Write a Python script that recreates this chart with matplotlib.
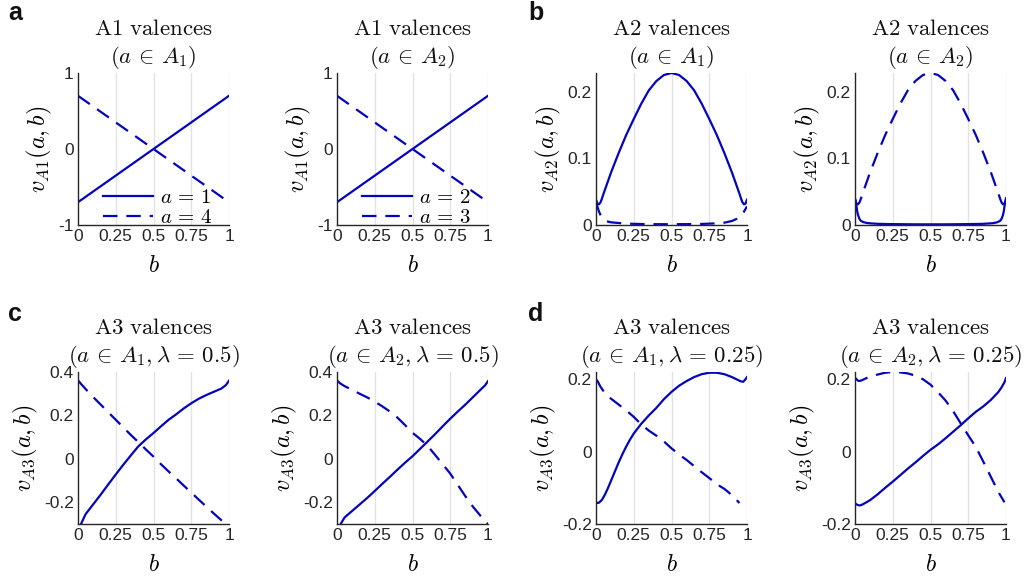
import matplotlib

matplotlib.use('Agg')
import matplotlib.pyplot as plt

plt.rcParams['font.family'] = ['Liberation Sans', 'DejaVu Sans']
plt.rcParams['mathtext.fontset'] = 'cm'

# ---- data ----
# A1 valences (straight lines, same in both panels)
b_a1 = [0, 0.25, 0.5, 0.75, 1]
a1_up = [-0.7, -0.35, 0, 0.35, 0.7]
a1_down = [0.7, 0.35, 0, -0.35, -0.7]

# A2 valences
b_hump = [0, 0.005, 0.01, 0.02, 0.03, 0.04, 0.05, 0.075, 0.1, 0.15, 0.2, 0.25, 0.3, 0.35, 0.4, 0.45, 0.5,
          0.55, 0.6, 0.65, 0.7, 0.75, 0.8, 0.85, 0.9, 0.925, 0.95, 0.96, 0.97, 0.98, 0.99, 0.995, 1.0]
v_hump = [0.038, 0.035, 0.032, 0.031, 0.034, 0.040, 0.047, 0.063, 0.079, 0.108, 0.135, 0.159, 0.182, 0.202, 0.216, 0.225, 0.228,
          0.225, 0.216, 0.202, 0.182, 0.159, 0.135, 0.108, 0.079, 0.063, 0.047, 0.040, 0.034, 0.031, 0.032, 0.035, 0.038]
b_flat1 = [0, 0.005, 0.01, 0.02, 0.03, 0.04, 0.06, 0.08, 0.1, 0.15, 0.2, 0.3, 0.4, 0.5, 0.6, 0.7, 0.8, 0.85, 0.9,
           0.93, 0.95, 0.97, 0.98, 0.99, 1.0]
v_flat1 = [0.035, 0.031, 0.027, 0.020, 0.015, 0.011, 0.007, 0.005, 0.004, 0.003, 0.002, 0.0015, 0.0012, 0.0012, 0.0013,
           0.0016, 0.0025, 0.0035, 0.006, 0.009, 0.012, 0.017, 0.020, 0.024, 0.028]
b_flat2 = [0, 0.005, 0.01, 0.015, 0.02, 0.03, 0.04, 0.06, 0.08, 0.1, 0.15, 0.2, 0.3, 0.4, 0.5, 0.6, 0.7, 0.8, 0.85,
           0.9, 0.92, 0.94, 0.96, 0.97, 0.98, 0.985, 0.99, 0.995, 1.0]
v_flat2 = [0.040, 0.036, 0.028, 0.020, 0.015, 0.009, 0.006, 0.004, 0.003, 0.0025, 0.0018, 0.0015, 0.0012, 0.001, 0.001,
           0.001, 0.0012, 0.0015, 0.0018, 0.0025, 0.003, 0.004, 0.006, 0.009, 0.015, 0.020, 0.028, 0.036, 0.040]

# A3 valences
b_a3 = [0, 0.02, 0.05, 0.1, 0.15, 0.2, 0.25, 0.3, 0.35, 0.4, 0.45, 0.5, 0.55, 0.6, 0.65, 0.7, 0.75, 0.8, 0.85, 0.9,
        0.95, 0.98, 1.0]
c1_solid = [-0.32, -0.3, -0.255, -0.21, -0.165, -0.118, -0.072, -0.027, 0.016, 0.058, 0.09, 0.119, 0.15, 0.18, 0.205,
            0.232, 0.256, 0.277, 0.294, 0.309, 0.324, 0.34, 0.36]
c1_dashed = [0.362, 0.345, 0.322, 0.285, 0.25, 0.215, 0.18, 0.145, 0.11, 0.077, 0.043, 0.01, -0.025, -0.058, -0.09,
             -0.123, -0.155, -0.188, -0.22, -0.252, -0.283, -0.302, -0.315]
c2_solid = [-0.32, -0.305, -0.27, -0.24, -0.21, -0.18, -0.148, -0.115, -0.083, -0.05, -0.018, 0.012, 0.046, 0.08,
            0.114, 0.15, 0.185, 0.218, 0.25, 0.284, 0.318, 0.338, 0.358]
c2_dashed = [0.362, 0.348, 0.335, 0.318, 0.3, 0.283, 0.263, 0.242, 0.218, 0.19, 0.156, 0.12, 0.092, 0.06, 0.018,
             -0.025, -0.068, -0.12, -0.172, -0.22, -0.262, -0.285, -0.30]

b_d1s = [0, 0.01, 0.02, 0.04, 0.06, 0.08, 0.1, 0.125, 0.15, 0.175, 0.2, 0.225, 0.25, 0.3, 0.35, 0.4, 0.45, 0.5, 0.55,
         0.6, 0.65, 0.7, 0.75, 0.8, 0.85, 0.9, 0.93, 0.96, 0.975, 0.99, 1.0]
d1_solid = [-0.14, -0.142, -0.141, -0.133, -0.118, -0.1, -0.08, -0.055, -0.03, -0.007, 0.014, 0.033, 0.05, 0.077, 0.1,
            0.121, 0.145, 0.165, 0.182, 0.195, 0.206, 0.214, 0.218, 0.218, 0.214, 0.206, 0.2, 0.194, 0.193, 0.2, 0.206]
b_d1d = [0, 0.01, 0.02, 0.03, 0.05, 0.075, 0.1, 0.15, 0.2, 0.25, 0.3, 0.35, 0.4, 0.45, 0.5, 0.55, 0.6, 0.65, 0.7,
         0.75, 0.8, 0.85, 0.9, 0.95]
d1_dashed = [0.2, 0.195, 0.187, 0.179, 0.167, 0.155, 0.146, 0.13, 0.114, 0.096, 0.075, 0.058, 0.044, 0.028, 0.009,
             -0.008, -0.023, -0.04, -0.057, -0.073, -0.09, -0.103, -0.12, -0.142]
b_d2s = [0, 0.01, 0.03, 0.05, 0.08, 0.1, 0.15, 0.2, 0.25, 0.3, 0.35, 0.4, 0.45, 0.5, 0.55, 0.6, 0.65, 0.7, 0.75, 0.8,
         0.85, 0.9, 0.95, 0.97, 0.99, 1.0]
d2_solid = [-0.142, -0.146, -0.149, -0.146, -0.139, -0.134, -0.118, -0.1, -0.083, -0.065, -0.047, -0.03, -0.012, 0.005,
            0.02, 0.037, 0.055, 0.073, 0.092, 0.11, 0.125, 0.143, 0.165, 0.177, 0.192, 0.203]
b_d2d = [0, 0.01, 0.02, 0.03, 0.05, 0.08, 0.1, 0.15, 0.2, 0.25, 0.3, 0.35, 0.4, 0.45, 0.5, 0.55, 0.6, 0.65, 0.7, 0.75,
         0.8, 0.85, 0.9, 0.95, 0.99]
d2_dashed = [0.204, 0.2, 0.196, 0.195, 0.198, 0.204, 0.207, 0.213, 0.218, 0.22, 0.219, 0.216, 0.21, 0.2, 0.185, 0.164,
             0.141, 0.112, 0.078, 0.045, 0.013, -0.028, -0.07, -0.112, -0.14]

xticks = [0, 0.25, 0.5, 0.75, 1]
xticklabels = ['0', '0.25', '0.5', '0.75', '1']

titles = [
    ['$\\mathrm{A1\\ valences}$\n$(a\\,\\in\\,A_1)$', '$\\mathrm{A1\\ valences}$\n$(a\\,\\in\\,A_2)$',
     '$\\mathrm{A2\\ valences}$\n$(a\\,\\in\\,A_1)$', '$\\mathrm{A2\\ valences}$\n$(a\\,\\in\\,A_2)$'],
    ['$\\mathrm{A3\\ valences}$\n$(a\\,\\in\\,A_1, \\lambda\\,=\\,0.5)$',
     '$\\mathrm{A3\\ valences}$\n$(a\\,\\in\\,A_2, \\lambda\\,=\\,0.5)$',
     '$\\mathrm{A3\\ valences}$\n$(a\\,\\in\\,A_1, \\lambda\\,=\\,0.25)$',
     '$\\mathrm{A3\\ valences}$\n$(a\\,\\in\\,A_2, \\lambda\\,=\\,0.25)$'],
]

blue = '#0404BC'
dash = (0, (6.5, 4))
lw = 1.6

fig = plt.figure(figsize=(10.29, 5.81), dpi=100)
lefts = [78 / 1029, 337 / 1029, 596 / 1029, 855 / 1029]
bottoms = [1 - 225 / 581, 1 - 524 / 581]
w = 151 / 1029
h = 152 / 581

axes = [[fig.add_axes([l, bt, w, h]) for l in lefts] for bt in bottoms]

# row 1
ax = axes[0][0]
ax.plot(b_a1, a1_up, color=blue, lw=lw, label='$a\\,=\\,1$')
ax.plot(b_a1, a1_down, color=blue, lw=lw, ls=dash, label='$a\\,=\\,4$')
ax = axes[0][1]
ax.plot(b_a1, a1_up, color=blue, lw=lw, label='$a\\,=\\,2$')
ax.plot(b_a1, a1_down, color=blue, lw=lw, ls=dash, label='$a\\,=\\,3$')
ax = axes[0][2]
ax.plot(b_hump, v_hump, color=blue, lw=lw)
ax.plot(b_flat1, v_flat1, color=blue, lw=lw, ls=dash)
ax = axes[0][3]
ax.plot(b_flat2, v_flat2, color=blue, lw=lw)
ax.plot(b_hump, v_hump, color=blue, lw=lw, ls=dash)

# row 2
axes[1][0].plot(b_a3, c1_solid, color=blue, lw=lw)
axes[1][0].plot(b_a3, c1_dashed, color=blue, lw=lw, ls=dash)
axes[1][1].plot(b_a3, c2_solid, color=blue, lw=lw)
axes[1][1].plot(b_a3, c2_dashed, color=blue, lw=lw, ls=dash)
axes[1][2].plot(b_d1s, d1_solid, color=blue, lw=lw)
axes[1][2].plot(b_d1d, d1_dashed, color=blue, lw=lw, ls=dash)
axes[1][3].plot(b_d2s, d2_solid, color=blue, lw=lw)
axes[1][3].plot(b_d2d, d2_dashed, color=blue, lw=lw, ls=dash)

ylims = [[(-1, 1)] * 2 + [(0, 0.228)] * 2, [(-0.3, 0.4)] * 2 + [(-0.2, 0.22)] * 2]
yticks = [[[-1, 0, 1]] * 2 + [[0, 0.1, 0.2]] * 2, [[-0.2, 0, 0.2, 0.4]] * 2 + [[-0.2, 0, 0.2]] * 2]
ytlabels = [[['-1', '0', '1']] * 2 + [['0', '0.1', '0.2']] * 2,
            [['-0.2', '0', '0.2', '0.4']] * 2 + [['-0.2', '0', '0.2']] * 2]
ylabels = [['$v_{A1}(a, b)$'] * 2 + ['$v_{A2}(a, b)$'] * 2, ['$v_{A3}(a, b)$'] * 4]

for r in range(2):
    for c in range(4):
        ax = axes[r][c]
        ax.set_xlim(0, 1)
        ax.set_ylim(*ylims[r][c])
        ax.set_xticks(xticks)
        ax.set_xticklabels(xticklabels)
        ax.set_yticks(yticks[r][c])
        ax.set_yticklabels(ytlabels[r][c])
        ax.tick_params(length=0, labelsize=12.5, colors='#262626', pad=3)
        for x in xticks[1:]:
            ax.axvline(x, color='#e3e3e3', lw=1.0, zorder=0)
        for s in ['top', 'right']:
            ax.spines[s].set_visible(False)
        for s in ['left', 'bottom']:
            ax.spines[s].set_color('#262626')
            ax.spines[s].set_linewidth(1.0)
        ax.set_title(titles[r][c], fontsize=16.5, pad=7, linespacing=1.22, color='#111111')
        ax.set_xlabel('$b$', fontsize=17, labelpad=8)
        ax.set_ylabel(ylabels[r][c], fontsize=17.5, labelpad=3)

for ax in axes[0][:2]:
    ax.legend(loc='lower left', bbox_to_anchor=(0.14, -0.04), frameon=False, fontsize=15,
              handlelength=2.4, handletextpad=0.3, labelspacing=0.05, borderpad=0.2, borderaxespad=0)

for lab, x, y in [('a', 0.008, 0.965), ('b', 0.513, 0.965), ('c', 0.008, 0.448), ('d', 0.513, 0.448)]:
    fig.text(x, y, lab, fontsize=18, fontweight='bold', color='#111111')

fig.savefig('out.png', dpi=100)
